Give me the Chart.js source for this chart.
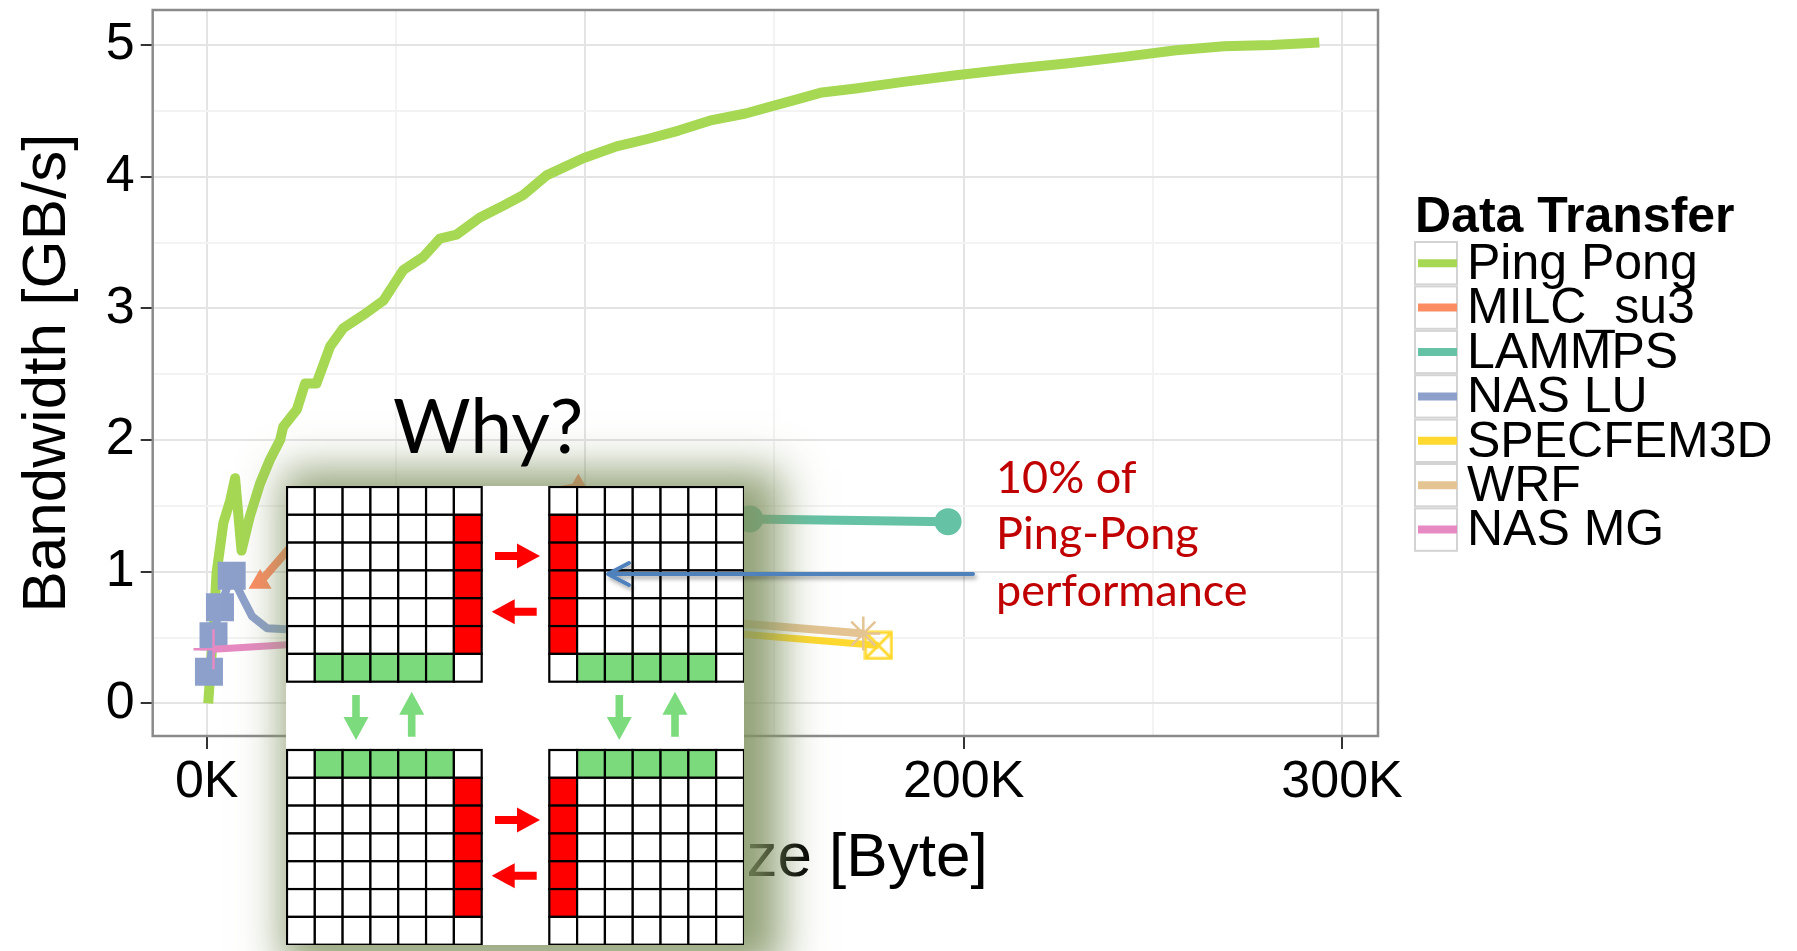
<!DOCTYPE html>
<html>
<head>
<meta charset="utf-8">
<script src="https://cdn.jsdelivr.net/npm/chart.js@4.4.0/dist/chart.umd.min.js"></script>
<style>
html,body{margin:0;padding:0;background:#fff;}
#wrap{position:relative;width:1797px;height:951px;overflow:hidden;background:#fff;}
#c{position:absolute;left:0;top:0;}
#inset{position:absolute;left:286px;top:486px;width:458px;height:459px;background:#fff;
  box-shadow:17px 4px 40px 20px rgba(128,146,96,0.85);}
#inset svg{position:absolute;left:0;top:0;}
#overlay{position:absolute;left:0;top:0;}
</style>
</head>
<body>
<div id="wrap">
  <canvas id="c" width="1797" height="951"></canvas>
  <div id="inset"><svg id="grid" width="458" height="459" viewBox="0 0 458 459"></svg></div>
  <svg id="overlay" width="1797" height="951" viewBox="0 0 1797 951">
    <defs>
      <filter id="sh" x="-5%" y="-50%" width="110%" height="200%">
        <feDropShadow dx="2" dy="3" stdDeviation="2" flood-color="#000" flood-opacity="0.35"/>
      </filter>
    </defs>
    <g filter="url(#sh)" stroke="#4F81BD" stroke-width="4" fill="none" stroke-linecap="round" stroke-linejoin="round">
      <line x1="973" y1="574" x2="609" y2="574"/>
      <polyline points="629,563 608,574 629,585"/>
    </g>
    <text x="393" y="453" font-family="Lato" font-size="75" fill="#000">Why?</text>
    <g font-family="Lato" font-size="45" fill="#C00000">
      <text x="996" y="493">10% of</text>
      <text x="996" y="549">Ping-Pong</text>
      <text x="996" y="606">performance</text>
    </g>
  </svg>
</div>
<script>
// ---- data (x: message size in thousand bytes, y: bandwidth in GB/s) ----
const seriesNames = ['Ping Pong','MILC_su3','LAMMPS','NAS LU','SPECFEM3D','WRF','NAS MG'];
const seriesColors = ['#A6D854','#FC8D62','#66C2A5','#8DA0CB','#FFD92F','#E5C494','#E78AC3'];
const pingPong = [[0.4,0],[1.8,0.58],[2.6,0.99],[4.4,1.37],[6.2,1.54],[7.5,1.71],[9.2,1.16],[11.4,1.42],
  [14.1,1.67],[16.7,1.85],[19.4,2.0],[20.2,2.10],[23.8,2.23],[26,2.43],[29,2.43],[32.6,2.71],[36.1,2.85],
  [41.4,2.95],[46.7,3.06],[51.9,3.29],[57.2,3.39],[61.6,3.53],[66,3.56],[72.2,3.69],[78.4,3.78],[83.6,3.86],
  [89.8,4.01],[99.5,4.14],[108.3,4.23],[117,4.29],[124.7,4.35],[133.5,4.43],[142.4,4.48],[148.7,4.53],
  [155,4.58],[162.6,4.64],[171.5,4.67],[184.1,4.72],[198,4.77],[213.2,4.82],[227.1,4.86],[242.3,4.91],
  [256.2,4.96],[268.8,4.99],[281.4,5.0],[294,5.02]];
const milcSu3 = [[14.1,0.92],[24,1.25],[98.2,1.645]];
const lammps = [[100,1.39],[143.5,1.40],[195.9,1.38]];
const nasLU = [[0.6,0.24],[1.8,0.51],[3.5,0.73],[6.6,0.97],[9.5,0.80],[12,0.66],[16,0.57],[30,0.55]];
const nasLUMarked = [true,true,true,true,false,false,false,false];
const specfem3d = [[110,0.60],[177.5,0.44]];
const wrf = [[110,0.68],[173.5,0.53]];
const nasMG = [[1.8,0.41],[30,0.46]];
const xTickValues = [0,50,100,150,200,250,300];
const yTickValues = [0,0.5,1,1.5,2,2.5,3,3.5,4,4.5,5];
const legendTitle = 'Data Transfer';
const xTitle = 'Data Size [Byte]';
const yTitle = 'Bandwidth [GB/s]';

// ---- inset picture (cell grids with arrows) ----
(function(){
  const svg = document.getElementById('grid');
  const NS = 'http://www.w3.org/2000/svg';
  const cell = 194.7/7;
  const red = '#FF0000', green = '#7ADA7C';
  function el(tag, attrs){const e=document.createElementNS(NS,tag);for(const k in attrs)e.setAttribute(k,attrs[k]);svg.appendChild(e);return e;}
  function block(ox, oy, redCol, greenRow){
    for(let r=0;r<7;r++)for(let c=0;c<7;c++){
      let f='#fff';
      if(c===redCol && r>=1 && r<=5) f=red;
      if(r===greenRow && c>=1 && c<=5) f=green;
      el('rect',{x:ox+c*cell,y:oy+r*cell,width:cell,height:cell,fill:f,stroke:'#000','stroke-width':2.2});
    }
  }
  block(1,1,6,6); block(263.3,1,0,6); block(1,264,6,0); block(263.3,264,0,0);
  function hArrow(x0,x1,y,dir,col){
    const hl=23, hw=12.5, st=4;
    let p;
    if(dir>0) p=[[x0,y-st],[x1-hl,y-st],[x1-hl,y-hw],[x1,y],[x1-hl,y+hw],[x1-hl,y+st],[x0,y+st]];
    else p=[[x1,y-st],[x0+hl,y-st],[x0+hl,y-hw],[x0,y],[x0+hl,y+hw],[x0+hl,y+st],[x1,y+st]];
    el('polygon',{points:p.map(q=>q.join(',')).join(' '),fill:col});
  }
  function vArrow(x,y0,y1,dir,col){
    const hl=23, hw=12.5, st=3.8;
    let p;
    if(dir>0) p=[[x-st,y0],[x-st,y1-hl],[x-hw,y1-hl],[x,y1],[x+hw,y1-hl],[x+st,y1-hl],[x+st,y0]];
    else p=[[x-st,y1],[x-st,y0+hl],[x-hw,y0+hl],[x,y0],[x+hw,y0+hl],[x+st,y0+hl],[x+st,y1]];
    el('polygon',{points:p.map(q=>q.join(',')).join(' '),fill:col});
  }
  hArrow(209,254,70,1,red); hArrow(205.7,250.7,125.7,-1,red);
  hArrow(209,254,334,1,red); hArrow(205.7,250.7,389.7,-1,red);
  const ga='#7CDB7C';
  vArrow(70,209,254,1,ga); vArrow(125.7,205.7,250.7,-1,ga);
  vArrow(333.3,209,254,1,ga); vArrow(389,205.7,250.7,-1,ga);
})();

// ---- square-with-cross point style ----
function squareCross(color){
  const s=30, cv=document.createElement('canvas'); cv.width=s; cv.height=s;
  const g=cv.getContext('2d'); g.strokeStyle=color; g.lineWidth=3;
  g.strokeRect(2,2,s-4,s-4);
  g.beginPath(); g.moveTo(2,2); g.lineTo(s-2,s-2); g.moveTo(s-2,2); g.lineTo(2,s-2); g.stroke();
  return cv;
}

const toXY = arr => arr.map(p => ({x:p[0], y:p[1]}));
const seriesData = [pingPong, milcSu3, lammps, nasLU, specfem3d, wrf, nasMG];
const pointStyles = [false,'triangle','circle','rect',squareCross(seriesColors[4]),'star','cross'];
const pointRadii = [0,13.3,13.5,nasLUMarked.map(m=>m?19.8:0),14,17,20];
const lineWidths = [10,8,9,8,7,8,7];

const datasets = seriesNames.map((name,i)=>({
  label:name,
  data:toXY(seriesData[i]),
  showLine:true,
  borderColor:seriesColors[i],
  backgroundColor:seriesColors[i],
  borderWidth:lineWidths[i],
  borderCapStyle:'butt',
  borderJoinStyle:'round',
  pointStyle:pointStyles[i],
  pointRadius:pointRadii[i],
  pointHoverRadius:pointRadii[i],
  pointBackgroundColor:seriesColors[i],
  pointBorderColor:seriesColors[i],
  pointBorderWidth:(i===5||i===6)?2.5:0,
  tension:0,
  order:6-i
}));

const isMajorX = v => v % 100 === 0;
const isMajorY = v => Math.abs(v - Math.round(v)) < 1e-9;

const panelBorder = {
  id:'panelBorder',
  afterDatasetsDraw(chart){
    const a=chart.chartArea, ctx=chart.ctx;
    ctx.save(); ctx.strokeStyle='#8a8a8a'; ctx.lineWidth=2.5;
    ctx.strokeRect(a.left,a.top,a.right-a.left,a.bottom-a.top); ctx.restore();
  }
};
const ggLegend = {
  id:'ggLegend',
  afterDraw(chart){
    const ctx=chart.ctx; ctx.save();
    const x0=1414, top0=241, rowH=44.4, keyW=44;
    ctx.fillStyle='#000'; ctx.font='bold 50px "Liberation Sans"'; ctx.textBaseline='alphabetic';
    ctx.fillText(legendTitle, 1415, 232);
    chart.data.datasets.forEach((ds,i)=>{
      const t=top0+i*rowH;
      ctx.fillStyle='#fff'; ctx.fillRect(x0,t,keyW,rowH);
      ctx.strokeStyle='#d3d3d3'; ctx.lineWidth=2; ctx.strokeRect(x0+1,t+1,keyW-2,rowH-2);
      ctx.strokeStyle=ds.borderColor; ctx.lineWidth=8; ctx.lineCap='butt';
      ctx.beginPath(); ctx.moveTo(x0+4,t+rowH/2); ctx.lineTo(x0+keyW-1,t+rowH/2); ctx.stroke();
    });
    ctx.fillStyle='#000'; ctx.font='50px "Liberation Sans"'; ctx.textBaseline='middle';
    chart.data.datasets.forEach((ds,i)=>{
      const t=top0+i*rowH;
      ctx.fillText(ds.label, 1467, t+rowH/2+2);
    });
    ctx.restore();
  }
};

Chart.defaults.font.family='"Liberation Sans", Arial, sans-serif';
new Chart(document.getElementById('c'),{
  type:'scatter',
  data:{datasets},
  plugins:[panelBorder, ggLegend],
  options:{
    responsive:false, animation:false, devicePixelRatio:1,
    layout:{autoPadding:false, padding:{left:0,top:10,right:419,bottom:0}},
    plugins:{legend:{display:false},tooltip:{enabled:false}},
    scales:{
      x:{
        type:'linear', min:-14.27, max:309.5,
        afterBuildTicks:s=>{s.ticks=xTickValues.map(v=>({value:v}));},
        afterFit:s=>{s.height=215; s.paddingLeft=0; s.paddingRight=0;},
        ticks:{callback:v=>isMajorX(v)?v+'K':'', color:'#000', font:{size:52}, padding:2, maxRotation:0, autoSkip:false},
        grid:{color:c=>isMajorX(c.tick.value)?'#E4E4E4':'#F3F3F3', lineWidth:2,
              tickColor:c=>isMajorX(c.tick.value)?'#333':'rgba(0,0,0,0)', tickLength:13, tickWidth:2},
        border:{display:false},
        title:{display:true, text:xTitle, color:'#000', font:{size:62}, padding:{top:0,bottom:55}}
      },
      y:{
        type:'linear', min:-0.248, max:5.266,
        afterBuildTicks:s=>{s.ticks=yTickValues.map(v=>({value:v}));},
        afterFit:s=>{s.width=152.7; s.paddingTop=0; s.paddingBottom=0;},
        ticks:{callback:v=>isMajorY(v)?String(v):'', color:'#000', font:{size:52}, padding:6, autoSkip:false},
        grid:{color:c=>isMajorY(c.tick.value)?'#E4E4E4':'#F3F3F3', lineWidth:2,
              tickColor:c=>isMajorY(c.tick.value)?'#333':'rgba(0,0,0,0)', tickLength:12, tickWidth:2},
        border:{display:false},
        title:{display:true, text:yTitle, color:'#000', font:{size:62}, padding:{top:11,bottom:0}}
      }
    }
  }
});
</script>
</body>
</html>
